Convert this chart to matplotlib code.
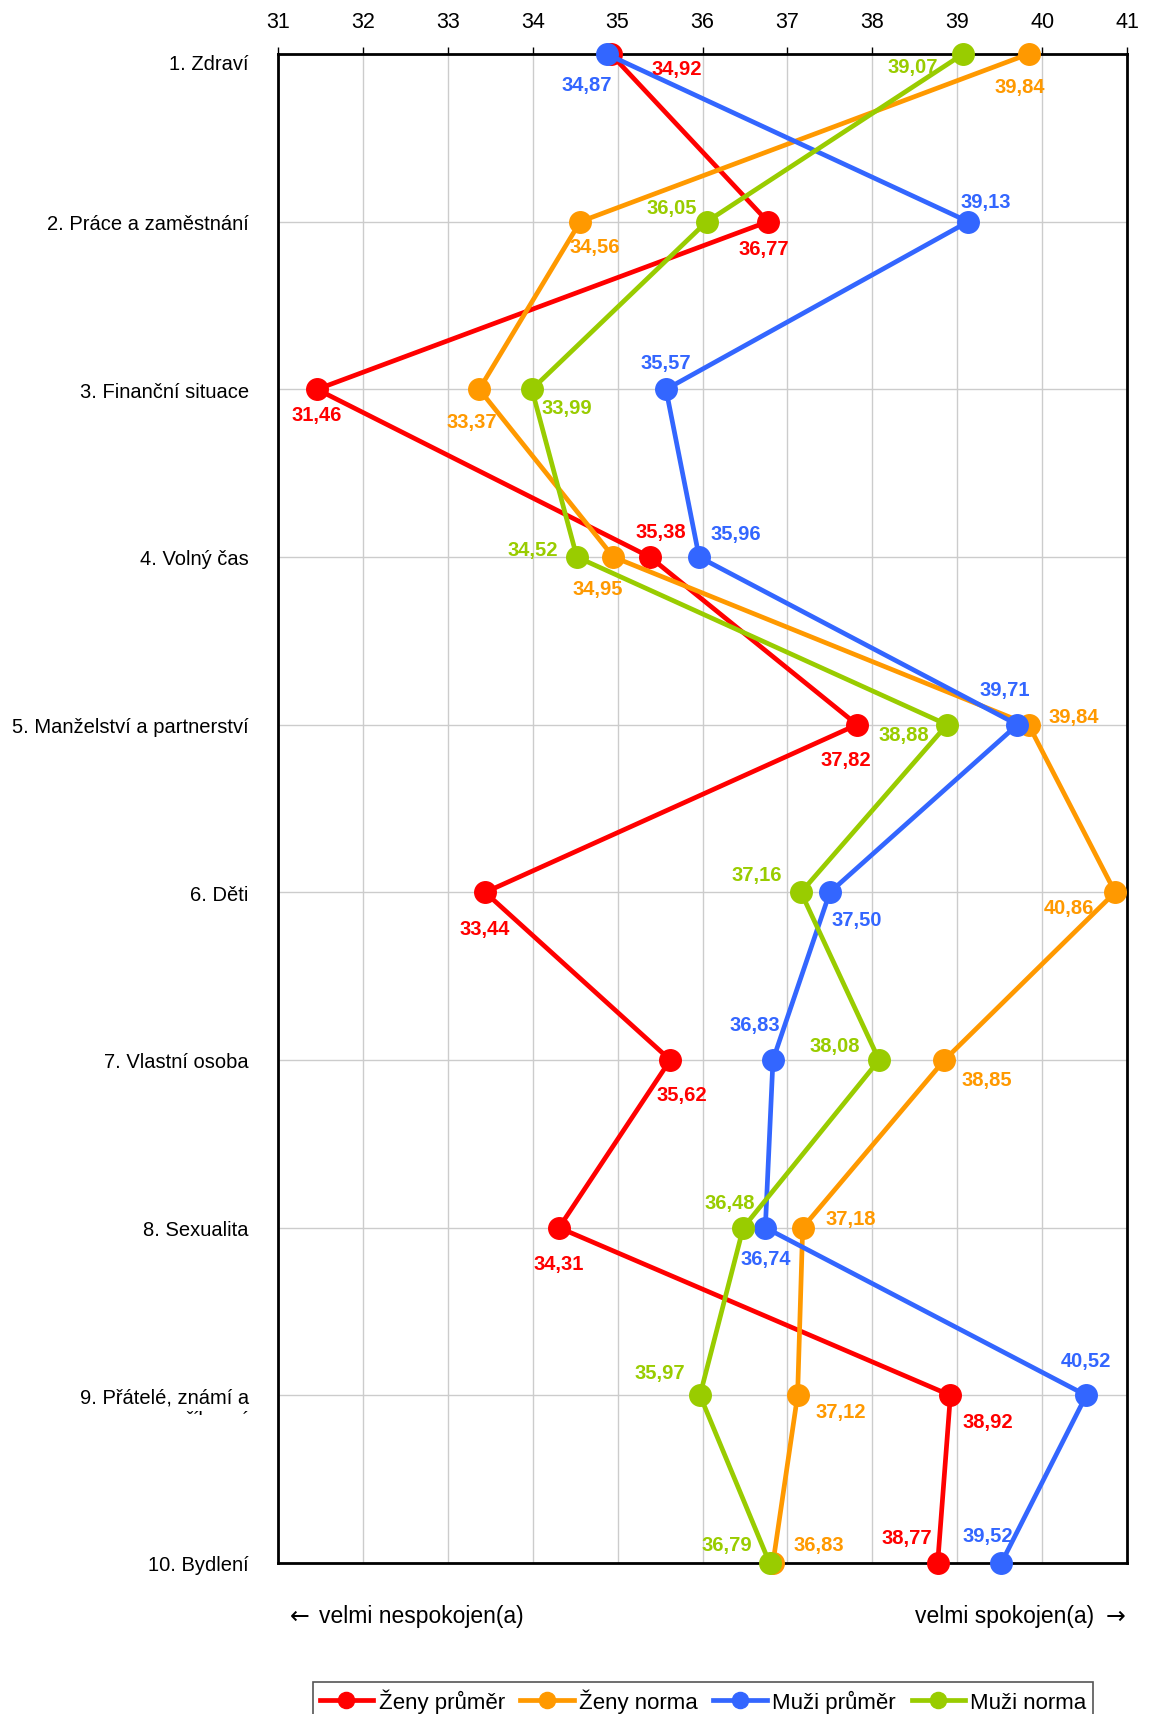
import matplotlib
matplotlib.use("Agg")
import matplotlib.pyplot as plt
from matplotlib.transforms import Bbox, ScaledTranslation
import numpy as np

plt.rcParams['font.family'] = ['Liberation Sans', 'DejaVu Sans']

categories = ["1. Zdraví", "2. Práce a zaměstnání", "3. Finanční situace", "4. Volný čas",
              "5. Manželství a partnerství", "6. Děti", "7. Vlastní osoba", "8. Sexualita",
              "9. Přátelé, známí a", "10. Bydlení"]
cut_line = "příbuzní"  # druhy radek u 9. polozky, v originale oriznuty

series_names = ["Ženy průměr", "Ženy norma", "Muži průměr", "Muži norma"]
zeny_prumer = [34.92, 36.77, 31.46, 35.38, 37.82, 33.44, 35.62, 34.31, 38.92, 38.77]
zeny_norma = [39.84, 34.56, 33.37, 34.95, 39.84, 40.86, 38.85, 37.18, 37.12, 36.83]
muzi_prumer = [34.87, 39.13, 35.57, 35.96, 39.71, 37.50, 36.83, 36.74, 40.52, 39.52]
muzi_norma = [39.07, 36.05, 33.99, 34.52, 38.88, 37.16, 38.08, 36.48, 35.97, 36.79]
x_ticks = list(range(31, 42))

colors = ["#ff0000", "#ff9900", "#3366ff", "#99cc00"]

# posuny popisku v pixelech (dx, dy) pro kazdou radu
offsets = [
    [(66, -15), (-4, -27), (0, -25), (11, 25), (-11, -35), (0, -36), (12, -35), (0, -36), (37, -26), (-31, 25)],
    [(-9, -33), (15, -25), (-7, -32), (-16, -32), (45, 8), (-46, -15), (42, -20), (48, 9), (43, -16), (46, 18)],
    [(-20, -31), (18, 20), (0, 27), (37, 23), (-13, 35), (27, -27), (-18, 35), (0, -31), (0, 35), (-14, 27)],
    [(-50, -13), (-35, 14), (35, -18), (-44, 7), (-43, -10), (-44, 18), (-44, 14), (-14, 25), (-40, 23), (-43, 18)],
]

fig = plt.figure(figsize=(11.54, 17.15), dpi=100)
ax = fig.add_axes([278/1154, 1-1564/1715, (1127-278)/1154, (1564-55)/1715])

y = np.arange(len(categories))
all_series = [zeny_prumer, zeny_norma, muzi_prumer, muzi_norma]
for i, vals in enumerate(all_series):
    ax.plot(vals, y, color=colors[i], lw=3.4, marker="o", ms=15.5, label=series_names[i],
            clip_on=False, zorder=3+i)
    for j, v in enumerate(vals):
        ax.annotate("{:.2f}".format(v).replace(".", ","), (v, y[j]), xytext=offsets[i][j],
                    textcoords="offset pixels", ha="center", va="center", color=colors[i],
                    fontsize=14.5, fontweight="bold", zorder=10)

ax.set_xlim(31, 41)
ax.set_ylim(len(categories)-1, 0)
ax.set_xticks(x_ticks)
ax.xaxis.tick_top()
ax.tick_params(axis="x", direction="out", length=5, width=1, pad=10.5, labelsize=15.5)
ax.set_yticks(y)
ax.set_yticklabels(categories)
ax.tick_params(axis="y", length=0, pad=21, labelsize=14.5)
ax.grid(True, color="#cccccc", lw=1)
ax.set_axisbelow(True)
for s in ax.spines.values():
    s.set_linewidth(2)
    s.set_color("black")

# prvni popisek je v originale o kousek nize
lbl0 = ax.get_yticklabels()[0]
lbl0.set_transform(lbl0.get_transform() + ScaledTranslation(0, -0.08, fig.dpi_scale_trans))

# oriznuty druhy radek popisku
t = fig.text(248/1154, 1-1421/1715, cut_line, ha="right", va="center", fontsize=14.5)
t.set_clip_box(Bbox([[0, 1715-1416], [1154, 1715]]))
t.set_clip_on(True)

ty = 1-1617/1715
fig.text(290/1154, ty, "←", ha="left", va="center", fontsize=17, family="DejaVu Sans")
fig.text(319/1154, ty, "velmi nespokojen(a)", ha="left", va="center", fontsize=16.5)
fig.text(1094/1154, ty, "velmi spokojen(a)", ha="right", va="center", fontsize=16.5)
fig.text(1125/1154, ty, "→", ha="right", va="center", fontsize=17, family="DejaVu Sans")

leg = fig.legend(loc="upper left", bbox_to_anchor=(313/1154, 1-1683/1715), ncol=4, fontsize=16,
                 frameon=True, fancybox=False, edgecolor="#555555", framealpha=1,
                 handlelength=2.4, handletextpad=0.25, columnspacing=0.7, markerscale=0.75,
                 borderpad=0.3, borderaxespad=0)
leg.get_frame().set_linewidth(1.2)

fig.savefig("out.png", dpi=100)
